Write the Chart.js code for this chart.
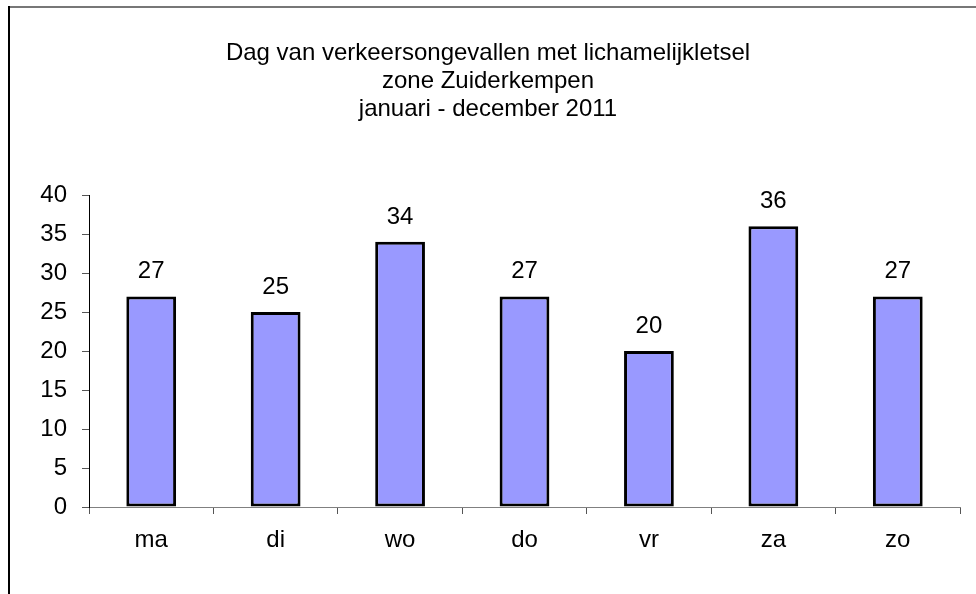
<!DOCTYPE html>
<html>
<head>
<meta charset="utf-8">
<script src="https://cdn.jsdelivr.net/npm/chart.js@4/dist/chart.umd.min.js"></script>
<style>
  body { margin: 0; background: #fff; }
</style>
</head>
<body>
<canvas id="grafiek" width="976" height="594"></canvas>
<script>
  // dagen en aantal ongevallen
  var dagen = ["ma", "di", "wo", "do", "vr", "za", "zo"]
  var ongevallen = [27, 25, 34, 27, 20, 36, 27]
  var titel = ["Dag van verkeersongevallen met lichamelijkletsel", "zone Zuiderkempen", "januari - december 2011"]
  var yTicks = [0, 5, 10, 15, 20, 25, 30, 35, 40]

  var lettertype = "'Liberation Sans', Arial, sans-serif"
  Chart.defaults.font.family = lettertype
  Chart.defaults.color = "#000"

  // kader, titel en waarden boven de staven
  var tekstPlugin = {
    id: "tekst",
    beforeDraw: function(chart){
      var ctx = chart.ctx
      ctx.save()
      ctx.fillStyle = "#fff"
      ctx.fillRect(0, 0, chart.width, chart.height)
      ctx.strokeStyle = "#777"
      ctx.lineWidth = 2
      ctx.beginPath()
      ctx.moveTo(8, 7)
      ctx.lineTo(chart.width, 7)
      ctx.stroke()
      ctx.strokeStyle = "#000"
      ctx.beginPath()
      ctx.moveTo(9, 6)
      ctx.lineTo(9, chart.height)
      ctx.stroke()
      ctx.restore()
    },
    afterDatasetsDraw: function(chart){
      var ctx = chart.ctx
      ctx.save()
      ctx.fillStyle = "#000"
      ctx.textAlign = "center"
      ctx.textBaseline = "alphabetic"
      ctx.font = "24px " + lettertype
      titel.forEach(function(t, i){
        ctx.fillText(t, 488, 60 + i * 28)
      })
      chart.getDatasetMeta(0).data.forEach(function(bar, i){
        ctx.fillText(ongevallen[i], bar.x, bar.y - 18)
      })
      ctx.restore()
    }
  }

  new Chart(document.getElementById("grafiek"), {
    type: "bar",
    data: {
      labels: dagen,
      datasets: [{
        data: ongevallen,
        backgroundColor: "#9999FF",
        borderColor: "#000",
        borderWidth: 3,
        borderSkipped: false,
        barPercentage: 0.4,
        categoryPercentage: 1
      }]
    },
    options: {
      responsive: false,
      animation: false,
      layout: { padding: { left: 10, top: 195, right: 16, bottom: 0 } },
      plugins: { legend: { display: false }, tooltip: { enabled: false }, title: { display: false } },
      scales: {
        x: {
          afterFit: function(s){ s.height = 87 },
          border: { color: "#808080", width: 1 },
          grid: { offset: true, drawOnChartArea: false, tickLength: 7, color: "#555" },
          ticks: { font: { size: 24 }, padding: 12 }
        },
        y: {
          min: 0, max: 40,
          afterFit: function(s){ s.width = 79 },
          afterBuildTicks: function(s){ s.ticks = yTicks.map(function(v){ return { value: v } }) },
          border: { color: "#000", width: 1 },
          grid: { drawOnChartArea: false, tickLength: 7, color: "#555" },
          ticks: { font: { size: 24 }, padding: 15 }
        }
      }
    },
    plugins: [tekstPlugin]
  })
</script>
</body>
</html>
